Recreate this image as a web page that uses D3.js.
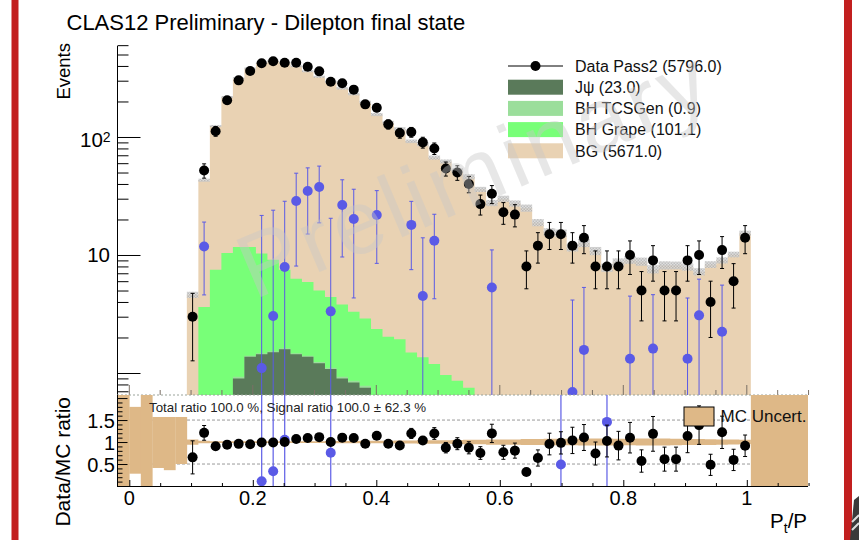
<!DOCTYPE html>
<html><head><meta charset="utf-8">
<script src="https://cdn.jsdelivr.net/npm/d3@7"></script>
<style>
body{margin:0;background:#fff}
svg{display:block}
text{font-family:"Liberation Sans",Arial,Helvetica,sans-serif}
</style>
</head><body>
<svg id="c" width="859" height="540"></svg>
<script>
// ---------------- data ----------------
const binLow = 0.0932, binWidth = 0.01864;
const dataCounts = [3,52,112,205,302,362,422,438,426,426, 394,360,294,285,252,189,177,128,108,110, 90,80,54,50,40,27,33,23,22,8, 12,15,15,12,14,8,8,8,10,5, 9,5,5,9,10,4,11,6,14];
const bgYield = [4.3,39.4,116.5,207.6,303.3,369.3,415.7,432.9,418.5,391.7, 355.1,319,289.6,255.2,227.7,194.1,152.6,131,115.1,90.5, 85.6,65.8,61,51.1,45.3,35.4,27.1,29.6,27,24.7, 18.6,15.5,15.1,11.4,12.55,10.7,7.7,8.6,9.0,8.7, 7.5,8.1,8.1,7.85,7.15,8.25,8.95,10.05,15.25];
const grapeYield = [0.3,3.57,7.27,9.97,10.77,10.3,8.83,7.57,5.88,4.83, 4.5,3.76,3.29,2.87,2.44,2.12,1.78,1.55,1.55,1.16, 1.09,0.97,0.79,0.72,0.63,0.5,0.4,0.33,0.28,0.24, 0.2,0.18,0.16,0.14,0.12,0.11,0.1,0.09,0.08,0.08, 0.07,0.06,0.06,0.05,0.05,0.04,0.04,0.04,0.03];
const tcsYield = [0.005,0.01,0.02,0.03,0.03,0.03,0.03,0.03,0.03,0.03, 0.03,0.03,0.03,0.03,0.03,0.03,0.03,0.03,0.03,0.03, 0.02,0.02,0.02,0.02,0.02,0.02,0.02,0.02,0.02,0.02, 0.01,0.01,0.01,0.01,0.01,0.01,0.01,0.01,0.01,0.01, 0.01,0.01,0.01,0.01,0.01,0.01,0.01,0.01,0.01];
const jpsiYield = [0,0.05,0.2,0.4,0.9,1.37,1.44,1.5,1.59,1.44, 1.37,1.21,1.08,0.9,0.83,0.75,0.55,0.45,0.35,0.3, 0.25,0.2,0.15,0.12,0.1,0.08,0.06,0.05,0.04,0.03, 0.03,0.02,0.02,0.02,0.01,0.01,0.01,0.01,0.01,0.01, 0.01,0.01,0.01,0.01,0.01,0.01,0.01,0.01,0.01];
const signalData = [null,11.8,null,null,null,null,1.1,3.04,7.9,28.7, 34.9,37.7,3.33,26.5,20.2,null,21.8,null,null,18, 4.5,13.2,null,null,null,null,5.3,null,null,null, null,null,0.093,0.69,1.57,null,0.175,null,1.32,null, 1.61,null,null,1.32,3.08,null,2.24,null,null];
const mcRelUnc = [0.06,0.03,0.02,0.02,0.02,0.02,0.02,0.02,0.02,0.02, 0.02,0.02,0.025,0.025,0.025,0.03,0.03,0.03,0.035,0.035, 0.04,0.04,0.04,0.045,0.05,0.05,0.06,0.06,0.06,0.07, 0.07,0.075,0.075,0.075,0.08,0.08,0.08,0.075,0.075,0.08, 0.08,0.08,0.075,0.07,0.07,0.065,0.06,0.055,0.05];
// ratio-band blocks where the MC is empty
const emptyEdges = [-0.02,0,0.01864,0.03728,0.05592,0.07456,0.0932];
const emptyLo = [0,0.28,0,0.41,0.36,0.5];
const emptyHi = [2.07,1.80,2.07,1.57,1.57,1.57];
const emptyRight = [1.00656,1.1];
const xMajorTicks = [0,0.2,0.4,0.6,0.8,1];
const xTickLabels = ["0","0.2","0.4","0.6","0.8","1"];
const legendLabels = ["Data Pass2 (5796.0)","J\u03c8 (23.0)","BH TCSGen (0.9)","BH Grape (101.1)","BG (5671.0)"];
const colors = {bg:"#e9d2b3", grape:"#78ff78", tcs:"#9bde9b", jpsi:"#5a7a5a", blue:"#5a5ae6", band:"#deb887", red:"#c21f1f"};

// ---------------- setup ----------------
const svg = d3.select("#c");
svg.append("rect").attr("width",859).attr("height",540).attr("fill","#fff");
const n = dataCounts.length;
const edges = d3.range(n+1).map(i => binLow + i*binWidth);
const x = d3.scaleLinear().domain([-0.02,1.1]).range([116.95,808.55]);
const yMain = d3.scaleLog().domain([0.651,602]).range([395,45]);
const yRat = d3.scaleLinear().domain([0,2.07]).range([486,395]);
const yMin = yMain.domain()[0];

const defs = svg.append("defs");
defs.append("clipPath").attr("id","clipMain").append("rect").attr("x",117).attr("y",45).attr("width",691).attr("height",350);
defs.append("clipPath").attr("id","clipRat").append("rect").attr("x",117).attr("y",395).attr("width",691).attr("height",91);
const pat = defs.append("pattern").attr("id","hatch").attr("width",3).attr("height",3).attr("patternUnits","userSpaceOnUse");
pat.append("rect").attr("width",3).attr("height",3).attr("fill","#d8d8d8");
pat.append("rect").attr("width",1.5).attr("height",1.5).attr("fill","#b4b4b4");
pat.append("rect").attr("x",1.5).attr("y",1.5).attr("width",1.5).attr("height",1.5).attr("fill","#b4b4b4");

// red side bars
svg.append("rect").attr("x",11.5).attr("y",0).attr("width",7).attr("height",540).attr("fill",colors.red);
svg.append("rect").attr("x",844).attr("y",0).attr("width",8).attr("height",540).attr("fill",colors.red);
// corner logo fragment
svg.append("path").attr("d","M854,500 L859,496 L859,540 L850,540 Z").attr("fill","#3a3a3a");
svg.append("path").attr("d","M852,522 L859,515 M852,530 L859,523").attr("stroke","#ddd").attr("stroke-width",2);

// title
svg.append("text").attr("x",66.5).attr("y",30).attr("font-size",22).attr("fill","#000").text("CLAS12 Preliminary - Dilepton final state");

// ---------------- main pad ----------------
const main = svg.append("g").attr("clip-path","url(#clipMain)");
const cum1 = jpsiYield.slice();
const cum2 = cum1.map((v,i)=>v+tcsYield[i]);
const cum3 = cum2.map((v,i)=>v+grapeYield[i]);
const cum4 = cum3.map((v,i)=>v+bgYield[i]);
function stepArea(vals){
  const pts = edges.map((e,i)=>({e, v: vals[Math.min(i,n-1)]}));
  return d3.area().x(d=>x(d.e)).y0(395).y1(d=>yMain(Math.max(d.v,yMin))).curve(d3.curveStepAfter)(pts);
}
main.append("path").attr("d",stepArea(cum4)).attr("fill",colors.bg);
main.append("path").attr("d",stepArea(cum3)).attr("fill",colors.grape);
main.append("path").attr("d",stepArea(cum2)).attr("fill",colors.tcs);
main.append("path").attr("d",stepArea(cum1)).attr("fill",colors.jpsi);
// MC uncertainty hatch
main.selectAll("rect.unc").data(cum4).join("rect").attr("class","unc")
  .attr("x",(d,i)=>x(edges[i])).attr("width",(d,i)=>x(edges[i+1])-x(edges[i]))
  .attr("y",(d,i)=>yMain(d*(1+mcRelUnc[i])))
  .attr("height",(d,i)=>yMain(Math.max(d*(1-mcRelUnc[i]),yMin))-yMain(d*(1+mcRelUnc[i])))
  .attr("fill","url(#hatch)").attr("opacity",0.85);

// x ticks of the main pad (bottom, pointing up)
const minorX = d3.range(0,23).map(i=>i*0.05).filter(v=>!xMajorTicks.some(m=>Math.abs(m-v)<1e-6));
const gTicksMain = svg.append("g");
gTicksMain.selectAll("line.mj").data(xMajorTicks).join("line").attr("x1",d=>x(d)).attr("x2",d=>x(d)).attr("y1",395).attr("y2",385).attr("stroke","#7a7066").attr("stroke-width",1);
gTicksMain.selectAll("line.mn").data(minorX).join("line").attr("x1",d=>x(d)).attr("x2",d=>x(d)).attr("y1",395).attr("y2",390).attr("stroke","#7a7066").attr("stroke-width",1);

// blue (signal) points
const blueIdx = d3.range(n).filter(i=>signalData[i]!==null && signalData[i]>=yMin);
const gBlue = main.append("g").attr("stroke",colors.blue).attr("stroke-width",1);
blueIdx.forEach(i=>{
  const cx = x((edges[i]+edges[i+1])/2), v = signalData[i], e = Math.sqrt(dataCounts[i]);
  const yt = yMain(v+e), yb = (v-e)>yMin ? yMain(v-e) : 400;
  gBlue.append("line").attr("x1",cx).attr("x2",cx).attr("y1",yt).attr("y2",yb);
  gBlue.append("line").attr("x1",cx-2).attr("x2",cx+2).attr("y1",yt).attr("y2",yt);
  if ((v-e)>yMin) gBlue.append("line").attr("x1",cx-2).attr("x2",cx+2).attr("y1",yb).attr("y2",yb);
});
main.selectAll("circle.blue").data(blueIdx).join("circle").attr("class","blue")
  .attr("cx",i=>x((edges[i]+edges[i+1])/2)).attr("cy",i=>yMain(signalData[i])).attr("r",5).attr("fill",colors.blue);

// data points
const gData = main.append("g").attr("stroke","#000").attr("stroke-width",1);
d3.range(n).forEach(i=>{
  const cx = x((edges[i]+edges[i+1])/2), v = dataCounts[i], e = Math.sqrt(v);
  const yt = yMain(v+e), yb = (v-e)>yMin ? yMain(v-e) : 400;
  gData.append("line").attr("x1",cx).attr("x2",cx).attr("y1",yt).attr("y2",yb);
  gData.append("line").attr("x1",cx-2).attr("x2",cx+2).attr("y1",yt).attr("y2",yt);
  gData.append("line").attr("x1",cx-2).attr("x2",cx+2).attr("y1",yb).attr("y2",yb);
});
main.selectAll("circle.data").data(dataCounts).join("circle").attr("class","data")
  .attr("cx",(d,i)=>x((edges[i]+edges[i+1])/2)).attr("cy",d=>yMain(d)).attr("r",5).attr("fill","#000");

// main y axis
const yMajor = [1,10,100];
const yMinor = [];
[0.1,1,10,100].forEach(dec=>{ for(let k=2;k<=9;k++){ const v=k*dec; if(v>=yMin && v<=602) yMinor.push(v);} });
svg.append("g").attr("transform","translate(117.5,0)")
  .call(d3.axisLeft(yMain).tickValues(yMinor).tickSize(-11).tickFormat("").tickSizeOuter(0))
  .call(g=>g.select(".domain").remove())
  .selectAll("line").attr("stroke","#000");
svg.append("g").attr("transform","translate(117.5,0)")
  .call(d3.axisLeft(yMain).tickValues(yMajor).tickSize(-23).tickFormat("").tickSizeOuter(0))
  .call(g=>g.select(".domain").attr("d","M0,46V395").attr("stroke","#000"))
  .selectAll("line").attr("stroke","#000");
svg.append("text").attr("x",110).attr("y",yMain(10)+7).attr("text-anchor","end").attr("font-size",20.5).text("10");
const t100 = svg.append("text").attr("x",80).attr("y",yMain(100)+10).attr("font-size",20.5);
t100.append("tspan").text("10");
t100.append("tspan").attr("font-size",14).attr("dy",-5).text("2");
svg.append("text").attr("transform","translate(70,43) rotate(-90)").attr("text-anchor","end").attr("font-size",18.5).text("Events");

// dotted pad boundary
svg.append("line").attr("x1",117).attr("x2",808).attr("y1",395).attr("y2",395).attr("stroke","#9aa39a").attr("stroke-dasharray","2,2").attr("stroke-width",1);

// legend
const lx0 = 508, lx1 = 563, ly0 = 66, ldy = 21.2;
const lg = svg.append("g");
lg.append("line").attr("x1",lx0).attr("x2",lx1).attr("y1",ly0).attr("y2",ly0).attr("stroke","#000");
lg.append("circle").attr("cx",(lx0+lx1)/2).attr("cy",ly0).attr("r",5).attr("fill","#000");
[colors.jpsi,colors.tcs,colors.grape,colors.bg].forEach((c,i)=>{
  lg.append("rect").attr("x",lx0).attr("y",ly0+(i+1)*ldy-7.5).attr("width",lx1-lx0).attr("height",15).attr("fill",c);
});
lg.selectAll("text").data(legendLabels).join("text").attr("x",575).attr("y",(d,i)=>ly0+i*ldy+5.8).attr("font-size",16).attr("fill","#111").text(d=>d);

// ---------------- ratio pad ----------------
const rat = svg.append("g").attr("clip-path","url(#clipRat)");
[0.5,1.5].forEach(v=>{
  rat.append("line").attr("x1",117).attr("x2",808).attr("y1",yRat(v)).attr("y2",yRat(v)).attr("stroke","#999").attr("stroke-dasharray","3,2");
});
const bandPts = edges.map((e,i)=>({e, u: mcRelUnc[Math.min(i,n-1)]}));
rat.append("path").attr("d",d3.area().x(d=>x(d.e)).y0(d=>yRat(1-d.u)).y1(d=>yRat(1+d.u)).curve(d3.curveStepAfter)(bandPts)).attr("fill",colors.band);
emptyLo.forEach((lo,i)=>{
  rat.append("rect").attr("x",x(emptyEdges[i])).attr("width",x(emptyEdges[i+1])-x(emptyEdges[i])+0.3)
    .attr("y",yRat(emptyHi[i])).attr("height",yRat(lo)-yRat(emptyHi[i])).attr("fill",colors.band);
});
rat.append("rect").attr("x",x(emptyRight[0])).attr("width",x(emptyRight[1])-x(emptyRight[0])).attr("y",395).attr("height",91).attr("fill",colors.band);

// signal ratio (blue)
const sigMC = d3.range(n).map(i=>jpsiYield[i]+tcsYield[i]+grapeYield[i]);
const sigRatio = d3.range(n).map(i=>signalData[i]===null?null:signalData[i]/sigMC[i]);
const blueR = d3.range(n).filter(i=>sigRatio[i]!==null && sigRatio[i]>=0 && sigRatio[i]<=2.07);
blueR.forEach(i=>{
  const cx = x((edges[i]+edges[i+1])/2), e = Math.sqrt(dataCounts[i])/sigMC[i];
  rat.append("line").attr("x1",cx).attr("x2",cx).attr("y1",yRat(sigRatio[i]+e)).attr("y2",yRat(sigRatio[i]-e)).attr("stroke",colors.blue).attr("stroke-width",1.3).attr("opacity",0.9);
});
rat.selectAll("circle.br").data(blueR).join("circle").attr("class","br")
  .attr("cx",i=>x((edges[i]+edges[i+1])/2)).attr("cy",i=>yRat(sigRatio[i])).attr("r",5).attr("fill",colors.blue);

// data / MC ratio
const ratio = dataCounts.map((d,i)=>d/cum4[i]);
d3.range(n).forEach(i=>{
  const cx = x((edges[i]+edges[i+1])/2), r = ratio[i], e = r/Math.sqrt(dataCounts[i]);
  if (e*44 > 5) {
    rat.append("line").attr("x1",cx).attr("x2",cx).attr("y1",yRat(r+e)).attr("y2",yRat(r-e)).attr("stroke","#000");
    rat.append("line").attr("x1",cx-2).attr("x2",cx+2).attr("y1",yRat(r+e)).attr("y2",yRat(r+e)).attr("stroke","#000");
    rat.append("line").attr("x1",cx-2).attr("x2",cx+2).attr("y1",yRat(r-e)).attr("y2",yRat(r-e)).attr("stroke","#000");
  }
});
rat.selectAll("circle.rd").data(ratio).join("circle").attr("class","rd")
  .attr("cx",(d,i)=>x((edges[i]+edges[i+1])/2)).attr("cy",d=>yRat(d)).attr("r",5).attr("fill","#000");

// ratio axes
const rMajor = [0,0.5,1,1.5,2];
const rMinor = d3.range(0,21).map(i=>i*0.1).filter(v=>!rMajor.some(m=>Math.abs(m-v)<1e-6));
svg.append("g").attr("transform","translate(117.5,0)")
  .call(d3.axisLeft(yRat).tickValues(rMinor).tickSize(-5).tickFormat("").tickSizeOuter(0))
  .call(g=>g.select(".domain").remove());
svg.append("g").attr("transform","translate(117.5,0)")
  .call(d3.axisLeft(yRat).tickValues(rMajor).tickSize(-10).tickFormat("").tickSizeOuter(0))
  .call(g=>g.select(".domain").attr("d","M0,395V486"));
[["1.5",1.5],["1",1],["0.5",0.5]].forEach(([t,v])=>{
  svg.append("text").attr("x",115).attr("y",yRat(v)+7.5).attr("text-anchor","end").attr("font-size",20).text(t);
});
svg.append("text").attr("transform","translate(70,397) rotate(-90)").attr("text-anchor","end").attr("font-size",21).text("Data/MC ratio");

svg.append("g").attr("transform","translate(0,486)")
  .call(d3.axisBottom(x).tickValues(minorX).tickSize(-3).tickFormat("").tickSizeOuter(0))
  .call(g=>g.select(".domain").remove());
svg.append("g").attr("transform","translate(0,486)")
  .call(d3.axisBottom(x).tickValues(xMajorTicks).tickSize(-6).tickFormat("").tickSizeOuter(0))
  .call(g=>g.select(".domain").attr("d","M117,0.5H808").attr("stroke","#000"));
svg.selectAll("text.xl").data(xMajorTicks).join("text").attr("class","xl")
  .attr("x",d=>x(d)).attr("y",505).attr("text-anchor","middle").attr("font-size",20).text((d,i)=>xTickLabels[i]);
const xt = svg.append("text").attr("x",807).attr("y",528).attr("text-anchor","end").attr("font-size",20.5);
xt.append("tspan").text("P");
xt.append("tspan").attr("font-size",14).attr("dy",5).text("t");
xt.append("tspan").attr("dy",-5).text("/P");

// ratio legend + summary
svg.append("rect").attr("x",684).attr("y",407).attr("width",30).attr("height",19).attr("fill",colors.band).attr("stroke","#000").attr("stroke-width",1);
svg.append("text").attr("x",720.5).attr("y",422).attr("font-size",17).attr("fill","#111").text("MC Uncert.");
svg.append("text").attr("x",149).attr("y",412).attr("font-size",13.3).attr("fill","#222").text("Total ratio 100.0 %, Signal ratio 100.0 \u00b1 62.3 %");

// watermark
svg.append("text").attr("transform","translate(254,300) rotate(-23)").attr("font-size",90).attr("letter-spacing",5)
  .attr("fill","rgb(200,200,200)").attr("opacity",0.42).text("Preliminary");
</script>
</body></html>
